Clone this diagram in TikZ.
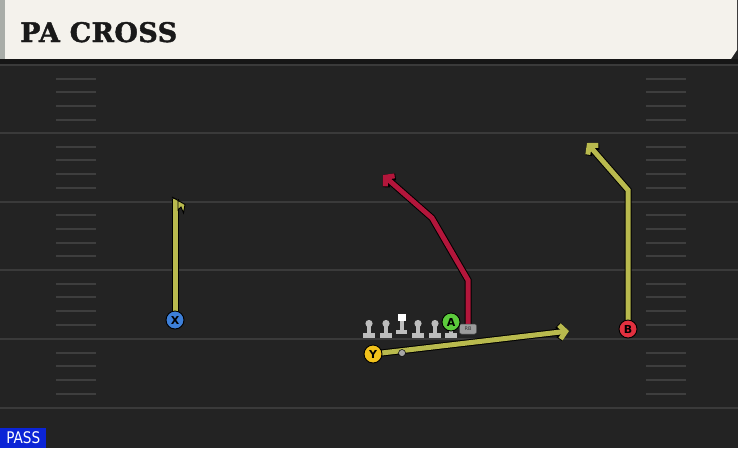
\documentclass[tikz,border=0pt]{standalone}
\usepackage{fontspec}
\newfontfamily\titlefont[FakeBold=1.5,LetterSpace=1.5]{DejaVu Serif}
\newfontfamily\labelfont{DejaVu Sans}
\newfontfamily\passfont[FakeStretch=0.85]{DejaVu Sans}
\usetikzlibrary{arrows.meta}
\definecolor{field}{HTML}{232323}
\definecolor{yardline}{HTML}{3A3A3A}
\definecolor{hashc}{HTML}{3E3E3E}
\definecolor{headerc}{HTML}{F4F2EC}
\definecolor{headerstrip}{HTML}{A9ADA8}
\definecolor{band}{HTML}{161616}
\definecolor{routeY}{HTML}{B9BA4E}
\definecolor{routeR}{HTML}{B3163B}
\definecolor{xblue}{HTML}{3D7FD8}
\definecolor{bred}{HTML}{E2303F}
\definecolor{agreen}{HTML}{5CCB3C}
\definecolor{yyellow}{HTML}{F2C21B}
\definecolor{linemanc}{HTML}{BDBDBD}
\definecolor{rbgray}{HTML}{9C9C9C}
\definecolor{passblue}{HTML}{0B24D6}
\tikzset{
  player/.style={circle, draw=black, line width=0.9pt, minimum size=18pt, inner sep=0pt,
    font=\labelfont\bfseries\fontsize{11}{11}\selectfont, text=black},
  route/.style={line width=5pt, line join=miter, draw=#1,
    preaction={draw=black, line width=7pt}},
  routetip/.style={-{Straight Barb[length=6pt,width=14pt]}},
  yardstyle/.style={draw=yardline, line width=2pt},
  hashstyle/.style={draw=hashc, line width=2pt},
}
\begin{document}
\begin{tikzpicture}[x=1pt,y=-1pt]
\useasboundingbox (0,0) rectangle (738,448);
% field
\fill[field] (0,0) rectangle (738,448);
% header
\fill[headerc] (5,0) -- (737,0) -- (737,50) -- (731,59) -- (5,59) -- cycle;
\fill[headerstrip] (0,0) rectangle (5,59);
\fill[band] (0,59) rectangle (738,64);
\node[anchor=base west, inner sep=0pt, font=\titlefont\bfseries\fontsize{27}{27}\selectfont, text=black!90] (title) at (20,42) {PA CROSS};
% yard lines
\foreach \yy in {65,133,201.5,270,339,408}
  \draw[yardstyle] (0,\yy) -- (738,\yy);
% hash marks
\foreach \base in {65,133,201.5,270,339}
  \foreach \k in {1,2,3,4} {
    \draw[hashstyle] (56,\base+\k*13.7) -- (96,\base+\k*13.7);
    \draw[hashstyle] (646,\base+\k*13.7) -- (686,\base+\k*13.7);
  }
% player positions
\coordinate (Xc) at (175,320);
\coordinate (Bc) at (628,329);
\coordinate (Ac) at (451,322);
\coordinate (Yc) at (373,354);
\coordinate (RBc) at (468,329);
% route waypoints
\coordinate (xtop) at (175,199);
\coordinate (bturn) at (628,190);
\coordinate (bend) at (587,143);
\coordinate (r1) at (468,280);
\coordinate (r2) at (432,218);
\coordinate (rend) at (383,175);
\coordinate (yend) at (569,331);
% routes
\draw[route=routeY] (Xc) -- (xtop);
\filldraw[fill=routeY, draw=black, line width=0.9pt]
  (172,197) -- (185,204.5) -- (183.5,213) -- (181,207) -- (178,210) -- (178,200) -- cycle;
\draw[route=routeY, routetip] (Bc) -- (bturn) -- (bend);
\draw[route=routeR, routetip] (RBc) -- (r1) -- (r2) -- (rend);
\draw[route=routeY, routetip] (Yc) -- (yend);
% linemen
\foreach \lx in {369,386,418,435,451} {
  \fill[linemanc] (\lx-6,333) rectangle (\lx+6,337.5);
  \fill[linemanc] (\lx-2,324) rectangle (\lx+2,334);
  \fill[linemanc] (\lx,323.5) circle (3.6);
}
\fill[linemanc] (396,330) rectangle (407,334);
\fill[linemanc] (400,320) rectangle (403.5,331);
\fill[white] (398,314) rectangle (405.5,321);
% QB dot
\node[circle, fill=gray!70, draw=black, line width=0.5pt, minimum size=7pt, inner sep=0pt] (qb) at (402,353) {};
% RB box
\node[rounded corners=2pt, fill=rbgray, draw=black!70, line width=0.5pt, minimum width=17pt, minimum height=10pt, inner sep=0pt,
  font=\labelfont\fontsize{5}{5}\selectfont, text=black!80] (RB) at (RBc) {RB};
% players
\node[player, fill=xblue] (X) at (Xc) {X};
\node[player, fill=bred] (B) at (Bc) {B};
\node[player, fill=agreen] (A) at (Ac) {A};
\node[player, fill=yyellow] (Y) at (Yc) {Y};
% pass label
\node[anchor=south west, fill=passblue, text=white, minimum width=46pt, minimum height=20pt, inner sep=0pt,
  font=\passfont\fontsize{16}{16}\selectfont] (pass) at (0,448) {PASS};
\end{tikzpicture}
\end{document}
